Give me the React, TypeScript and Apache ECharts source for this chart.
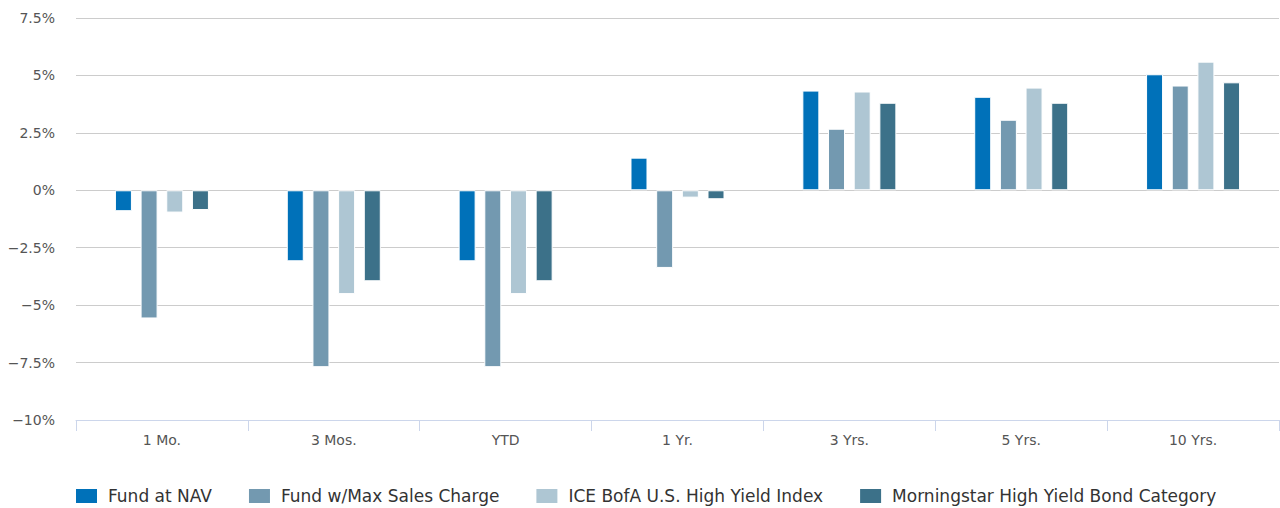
import React, { useEffect, useRef } from "react";
import * as echarts from "echarts";

const categories = ["1 Mo.", "3 Mos.", "YTD", "1 Yr.", "3 Yrs.", "5 Yrs.", "10 Yrs."];
const seriesNames = [
  "Fund at NAV",
  "Fund w/Max Sales Charge",
  "ICE BofA U.S. High Yield Index",
  "Morningstar High Yield Bond Category",
];
const fundNav = [-0.91, -3.09, -3.09, 1.42, 4.34, 4.07, 5.05];
const fundMax = [-5.58, -7.7, -7.7, -3.38, 2.68, 3.07, 4.56];
const iceIndex = [-0.97, -4.52, -4.52, -0.32, 4.3, 4.47, 5.6];
const morningstar = [-0.86, -3.96, -3.96, -0.39, 3.81, 3.81, 4.7];
const colors = ["#0071b9", "#7399b0", "#aec6d3", "#3c7189"];

export default function App() {
  const ref = useRef<HTMLDivElement>(null);
  useEffect(() => {
    document.body.style.margin = "0";
    const chart = echarts.init(ref.current!, null, { renderer: "svg" });
    const values = [fundNav, fundMax, iceIndex, morningstar];
    chart.setOption({
      animation: false,
      color: colors,
      textStyle: { fontFamily: "DejaVu Sans" },
      grid: { left: 76, right: 1, top: 18, bottom: 88, containLabel: false },
      legend: {
        top: 482,
        left: 69,
        itemWidth: 23,
        itemHeight: 16,
        itemGap: 35,
        icon: "rect",
        textStyle: { fontSize: 17, color: "#333333", fontFamily: "DejaVu Sans", padding: [0, 0, 0, 5] },
        data: seriesNames,
      },
      xAxis: {
        type: "category",
        data: categories,
        axisLine: { show: true, onZero: false, lineStyle: { color: "#ccd6eb", width: 1 } },
        axisTick: { show: true, alignWithLabel: false, length: 11, lineStyle: { color: "#ccd6eb" } },
        axisLabel: { color: "#555555", fontSize: 14, margin: 13 },
        splitLine: { show: false },
      },
      yAxis: {
        type: "value",
        min: -10,
        max: 7.5,
        interval: 2.5,
        axisLine: { show: false },
        axisTick: { show: false },
        splitLine: { lineStyle: { color: "#cccccc", width: 1 } },
        axisLabel: {
          color: "#555555",
          fontSize: 14,
          margin: 21,
          formatter: (v: number) => (v < 0 ? "\u2212" + Math.abs(v) : String(v)) + "%",
        },
      },
      series: seriesNames.map((name, i) => ({
        name,
        type: "bar",
        data: values[i],
        barWidth: 17,
        barGap: "51%",
        itemStyle: { color: colors[i], borderColor: "#ffffff", borderWidth: 1 },
      })),
    });
    return () => chart.dispose();
  }, []);
  return <div ref={ref} style={{ width: 1280, height: 508 }} />;
}
